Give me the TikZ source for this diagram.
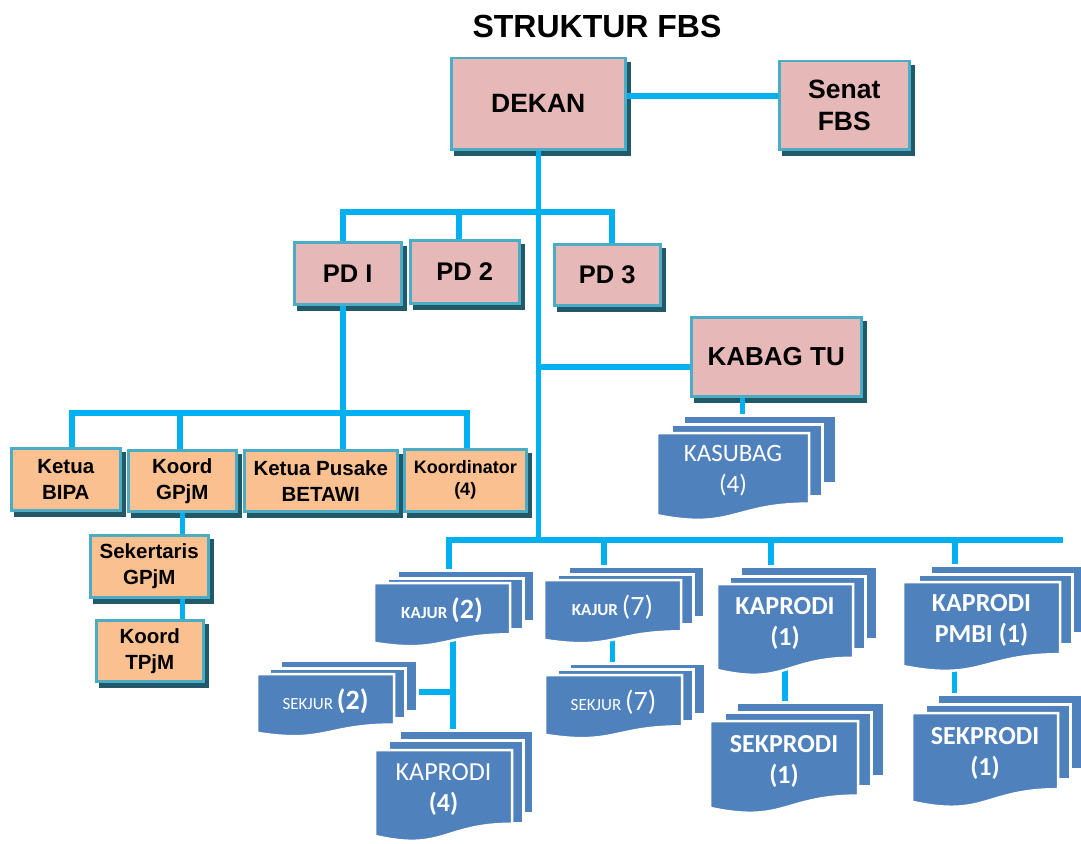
\documentclass[tikz,border=0pt]{standalone}
\usepackage{fontspec}
\setmainfont{Liberation Sans}
\newfontfamily\calibfont{Carlito}
\usetikzlibrary{calc}
\definecolor{conncol}{HTML}{00B0F0}
\definecolor{pinkfill}{HTML}{E6B9B8}
\definecolor{orangefill}{HTML}{FAC08F}
\definecolor{boxborder}{HTML}{4BACC6}
\definecolor{shadowcol}{HTML}{215968}
\definecolor{docblue}{HTML}{4F81BD}
\pgfdeclarelayer{shadowlayer}
\pgfdeclarelayer{connlayer}
\pgfsetlayers{shadowlayer,connlayer,main}
\tikzset{
  conn/.style={draw=conncol, line width=5.5pt, line join=miter},
  pinkbox/.style={draw=boxborder, line width=2.5pt, fill=pinkfill, inner sep=0pt, align=center,
    font=\bfseries\fontsize{25.5}{31}\selectfont, anchor=north west},
  orangebox/.style={pinkbox, fill=orangefill, font=\bfseries\fontsize{20.5}{26}\selectfont},
  stacklayerbox/.style={draw=white, line width=2.5pt, fill=docblue, inner sep=0pt, anchor=north west},
  docfrontfill/.style={draw=white, line width=2.5pt, fill=docblue},
  doctext/.style={text=white, align=center, inner sep=0pt},
  titletext/.style={font=\bfseries\fontsize{32}{36}\selectfont},
}
% style, name, left, top, right, bottom, text
\newcommand\orgbox[7]{\node[#1, minimum width={#5-#3}, minimum height={#6-#4}] (#2) at (#3,#4) {#7};}
% name, left, top, right, bottom
\newcommand\stacklayer[5]{\node[stacklayerbox, minimum width={#4-#2}, minimum height={#5-#3}] (#1) at (#2,#3) {};}
% name, left, top, right, H, font, text
\newcommand\docfront[7]{%
  \path[docfrontfill] (#2,#3) -- (#4,#3) -- (#4,{#3+0.802*#5})
    .. controls ({(#2+#4)/2},{#3+0.802*#5}) and ({(#2+#4)/2},{#3+1.107*#5}) .. (#2,{#3+0.934*#5}) -- cycle;
  \node[doctext, font={\calibfont#6}] (#1) at ({(#2+#4)/2},{#3+0.43*#5}) {#7};}
\begin{document}
\begin{tikzpicture}[x=1pt,y=-1pt]
\path[use as bounding box] (0,0) rectangle (1081,843);

\node[titletext] (title) at (597,26) {STRUKTUR FBS};

% pink boxes
\orgbox{pinkbox,font=\bfseries\fontsize{26.5}{31}\selectfont}{dekan}{450}{57}{624}{148}{DEKAN}
\orgbox{pinkbox,font=\bfseries\fontsize{26.5}{32}\selectfont}{senat}{778}{60}{908}{148}{Senat\\FBS}
\orgbox{pinkbox}{pd1}{293}{241}{400}{303}{PD I}
\orgbox{pinkbox}{pd2}{409}{239}{518}{302}{PD 2}
\orgbox{pinkbox}{pd3}{553}{243}{659}{304}{PD 3}
\orgbox{pinkbox,font=\bfseries\fontsize{26}{31}\selectfont}{kabag}{690}{316}{860}{395}{KABAG TU}

% orange boxes
\orgbox{orangebox}{bipa}{10}{447}{119}{509}{Ketua\\BIPA}
\orgbox{orangebox}{gpjm}{127}{449}{235}{510}{Koord\\GPjM}
\orgbox{orangebox}{pusake}{243}{449}{396}{510}{Ketua Pusake\\BETAWI}
\orgbox{orangebox,font=\bfseries\fontsize{18}{22}\selectfont}{koordn}{403}{448}{525}{510}{Koordinator\\(4)}
\orgbox{orangebox}{sek}{89}{534}{207}{596}{Sekertaris\\GPjM}
\orgbox{orangebox}{tpjm}{95}{619}{202}{680}{Koord\\TPjM}

% shadows
\begin{pgfonlayer}{shadowlayer}
\foreach \n in {dekan,senat,pd1,pd2,pd3,kabag,bipa,gpjm,pusake,koordn,sek,tpjm}
  \fill[shadowcol] ([xshift=4pt,yshift=-5pt]\n.south west) rectangle ([xshift=4pt,yshift=-5pt]\n.north east);
\end{pgfonlayer}

% document stacks
\stacklayer{kasubagB}{682}{414}{835}{482}
\stacklayer{kasubagM}{670}{423}{821}{495}
\docfront{kasubag}{657}{433}{809}{88}{\fontsize{25}{31}\selectfont}{KASUBAG\\(4)}

\stacklayer{kajur2B}{396}{569}{533}{620}
\stacklayer{kajur2M}{386}{577}{522}{628}
\docfront{kajur2}{374}{583}{510}{64}{\bfseries\fontsize{17}{20}\selectfont}{KAJUR {\fontsize{28}{30}\selectfont (2)}}

\stacklayer{sekjur2B}{279}{659}{416}{710}
\stacklayer{sekjur2M}{268}{667}{404}{717}
\docfront{sekjur2}{257}{674}{394}{63}{\fontsize{17}{20}\selectfont}{SEKJUR {\bfseries\fontsize{28}{30}\selectfont (2)}}

\stacklayer{kaprodi4B}{398}{729}{532}{812}
\stacklayer{kaprodi4M}{387}{739}{522}{822}
\docfront{kaprodi4}{375}{750}{512}{92}{\fontsize{26}{31}\selectfont}{KAPRODI\\\bfseries (4)}

\stacklayer{kajur7B}{567}{565}{703}{616}
\stacklayer{kajur7M}{556}{573}{692}{623}
\docfront{kajur7}{544}{580}{681}{64}{\fontsize{17}{20}\selectfont}{{\bfseries KAJUR} {\fontsize{28}{30}\selectfont (7)}}

\stacklayer{sekjur7B}{568}{662}{704}{713}
\stacklayer{sekjur7M}{556}{668}{692}{720}
\docfront{sekjur7}{545}{675}{682}{64}{\fontsize{17}{20}\selectfont}{SEKJUR {\fontsize{28}{30}\selectfont (7)}}

\stacklayer{kaprodi1B}{739}{565}{876}{638}
\stacklayer{kaprodi1M}{728}{575}{864}{648}
\docfront{kaprodi1}{717}{584}{853}{92}{\bfseries\fontsize{26}{31}\selectfont}{KAPRODI\\(1)}

\stacklayer{sekprodiLB}{735}{701}{883}{775}
\stacklayer{sekprodiLM}{723}{711}{870}{785}
\docfront{sekprodiL}{710}{721}{858}{93}{\bfseries\fontsize{26}{31}\selectfont}{SEKPRODI\\(1)}

\stacklayer{pmbiB}{929}{564}{1082}{632}
\stacklayer{pmbiM}{917}{573}{1071}{643}
\docfront{pmbi}{903}{582}{1060}{90}{\bfseries\fontsize{26}{31}\selectfont}{KAPRODI\\PMBI (1)}

\stacklayer{sekprodiRB}{936}{693}{1082}{768}
\stacklayer{sekprodiRM}{924}{703}{1069}{778}
\docfront{sekprodiR}{912}{713}{1058}{95}{\bfseries\fontsize{26}{31}\selectfont}{SEKPRODI\\(1)}

% bus coordinates
\coordinate (t1) at (343,212);
\coordinate (t2) at (459,212);
\coordinate (t3) at (612,212);
\coordinate (kb) at (537,367);
\coordinate (b1) at (72,413);
\coordinate (b2) at (180,413);
\coordinate (b3) at (343,413);
\coordinate (b4) at (467,413);
\coordinate (d1) at (449,540);
\coordinate (d2) at (604,540);
\coordinate (d3) at (771,540);
\coordinate (d4) at (955,540);
\coordinate (busR) at (1063,540);
\coordinate (k2x) at (453,692);

\begin{pgfonlayer}{connlayer}
\draw[conn] ([yshift=8pt]dekan.east) -- ([yshift=8pt]dekan.east -| senat.west);
\draw[conn] (dekan.south) -- (dekan.south |- d1);
\draw[conn] (t1 |- pd1.north) -- (t1) -- (t3) -- (t3 |- pd3.north);
\draw[conn] (t2) -- (t2 |- pd2.north);
\draw[conn] (kb) -- (kb -| kabag.west);
\draw[conn] ([xshift=-34pt]kabag.south) -- ([xshift=-34pt]kabag.south |- kasubagB.north);
\draw[conn] (b3 |- pd1.south) -- (b3 |- pusake.north);
\draw[conn] (b1 |- bipa.north) -- (b1) -- (b4) -- (b4 |- koordn.north);
\draw[conn] (b2) -- (b2 |- gpjm.north);
\draw[conn] (gpjm.south) -- (gpjm.south |- sek.north);
\draw[conn] (gpjm.south |- sek.south) -- (gpjm.south |- tpjm.north);
\draw[conn] (d1 |- kajur2B.north) -- (d1) -- (busR);
\draw[conn] (d2) -- (d2 |- kajur7B.north);
\draw[conn] (d3) -- (d3 |- kaprodi1B.north);
\draw[conn] (d4) -- (d4 |- pmbiB.north);
\draw[conn] (k2x |- kajur2.center) -- (k2x |- kaprodi4B.north);
\draw[conn] (k2x) -- (k2x -| sekjur2B.east);
\draw[conn] (kajur7.center) -- (kajur7.center |- sekjur7B.north);
\draw[conn] (kaprodi1.center) -- (kaprodi1.center |- sekprodiLB.north);
\draw[conn] ([xshift=-27pt]pmbi.center) -- ([xshift=-27pt]pmbi.center |- sekprodiRB.north);
\end{pgfonlayer}
\end{tikzpicture}
\end{document}
